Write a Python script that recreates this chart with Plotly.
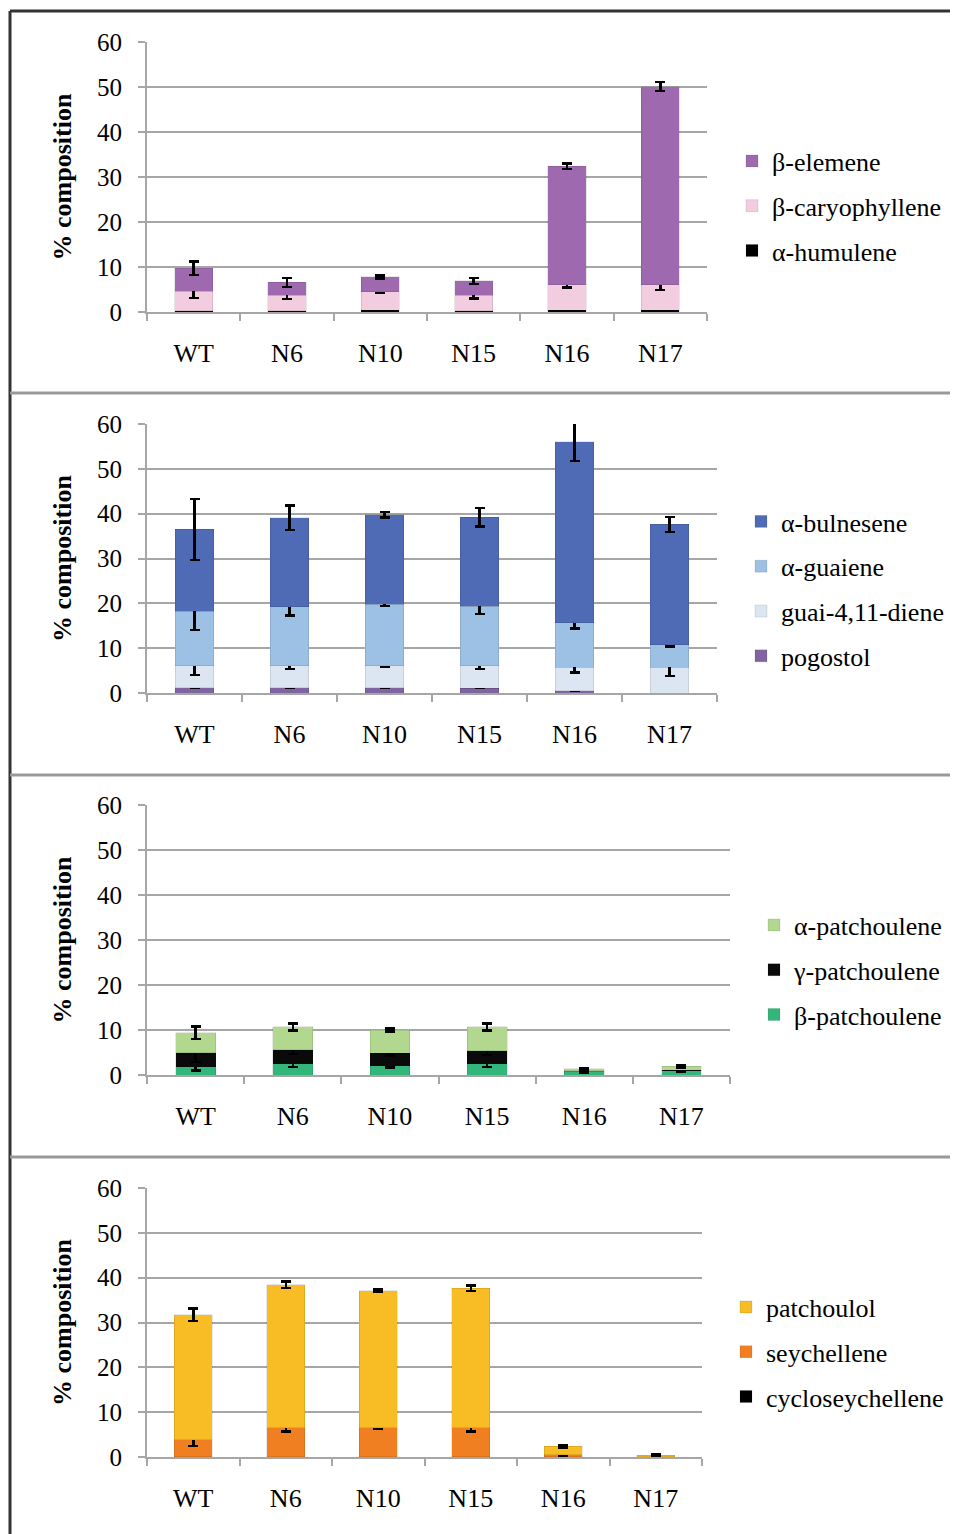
import plotly.graph_objects as go

categories = ["WT", "N6", "N10", "N15", "N16", "N17"]

# Panel 1 (bottom -> top)
humulene = [0.3, 0.3, 0.4, 0.3, 0.4, 0.4]
humulene_err = [0.1, 0.1, 0.1, 0.1, 0.2, 0.2]
caryophyllene = [4.3, 3.4, 4.1, 3.4, 5.7, 5.7]
caryophyllene_err = [1.5, 0.8, 0.3, 0.7, 0.7, 1.2]
elemene = [5.1, 2.9, 3.3, 3.2, 26.3, 44.0]
elemene_err = [1.5, 1.0, 0.3, 0.7, 0.6, 1.0]

# Panel 2
pogostol = [1.2, 1.2, 1.2, 1.1, 0.5, 0.0]
pogostol_err = [0, 0, 0, 0, 0, 0]
guaidiene = [4.9, 4.9, 4.9, 5.0, 5.2, 5.8]
guaidiene_err = [2.1, 0.7, 0.3, 0.7, 1.1, 2.0]
guaiene = [12.1, 13.1, 13.7, 13.2, 10.0, 5.0]
guaiene_err = [4.1, 1.9, 0.4, 1.7, 1.3, 0.4]
bulnesene = [18.3, 19.9, 20.0, 19.9, 40.3, 26.8]
bulnesene_err = [6.8, 2.7, 0.6, 2.1, 4.3, 1.7]

# Panel 3
b_patch = [1.8, 2.5, 2.1, 2.5, 0.8, 1.0]
b_patch_err = [0.8, 0.75, 0.4, 0.75, 0.3, 0.2]
g_patch = [3.2, 3.1, 2.7, 2.9, 0.1, 0.1]
g_patch_err = [2.1, 0.9, 0.5, 0.9, 0.2, 0.3]
a_patch = [4.4, 5.1, 5.2, 5.3, 0.5, 0.8]
a_patch_err = [1.4, 0.8, 0.3, 0.8, 0.2, 0.2]

# Panel 4
cyclosey = [0.1, 0.1, 0.1, 0.1, 0.1, 0.05]
cyclosey_err = [0, 0, 0, 0, 0, 0]
seychellene = [3.8, 6.4, 6.4, 6.4, 0.4, 0.05]
seychellene_err = [1.4, 0.8, 0.3, 0.8, 0.3, 0.0]
patchoulol = [27.8, 31.9, 30.6, 31.1, 1.9, 0.25]
patchoulol_err = [1.4, 0.7, 0.3, 0.6, 0.3, 0.2]

OFF = 8  # page body margin
W, H = 958 - OFF, 1534 - OFF
FONT = "Liberation Serif, Times New Roman, serif"
GRID = "#A6A6A6"


def px(x):
    return (x - OFF) / W


def py(y):
    return 1 - (y - OFF) / H


panels = [
    dict(series=[("α-humulene", humulene, humulene_err, "#000000"),
                 ("β-caryophyllene", caryophyllene, caryophyllene_err, "#F2CDE0"),
                 ("β-elemene", elemene, elemene_err, "#9E69AF")],
         x0=147, x1=707, ytop=42, ybot=312, legx=732, legy=206),
    dict(series=[("pogostol", pogostol, pogostol_err, "#8064A2"),
                 ("guai-4,11-diene", guaidiene, guaidiene_err, "#DCE6F2"),
                 ("α-guaiene", guaiene, guaiene_err, "#9DC0E5"),
                 ("α-bulnesene", bulnesene, bulnesene_err, "#4F6BB5")],
         x0=147, x1=717, ytop=424, ybot=693, legx=741, legy=589),
    dict(series=[("β-patchoulene", b_patch, b_patch_err, "#33B679"),
                 ("γ-patchoulene", g_patch, g_patch_err, "#0A0A0A"),
                 ("α-patchoulene", a_patch, a_patch_err, "#B2D88F")],
         x0=147, x1=730, ytop=805, ybot=1075, legx=754, legy=970),
    dict(series=[("cycloseychellene", cyclosey, cyclosey_err, "#000000"),
                 ("seychellene", seychellene, seychellene_err, "#F07F22"),
                 ("patchoulol", patchoulol, patchoulol_err, "#F8BC24")],
         x0=147, x1=702, ytop=1188, ybot=1457, legx=726, legy=1352),
]

fig = go.Figure()
layout = dict(width=W, height=H, margin=dict(l=0, r=0, t=0, b=0, autoexpand=False),
              paper_bgcolor="white", plot_bgcolor="white",
              barmode="stack", bargap=0.59, showlegend=True,
              font=dict(family=FONT, size=24, color="black"))

for i, p in enumerate(panels):
    n = i + 1
    xa = "x" if n == 1 else f"x{n}"
    ya = "y" if n == 1 else f"y{n}"
    lg = "legend" if n == 1 else f"legend{n}"
    for k, (name, vals, errs, col) in enumerate(p["series"]):
        fig.add_trace(go.Bar(
            x=categories, y=vals, name=name, xaxis=xa, yaxis=ya, legend=lg,
            legendgroup=f"p{n}_{name}", legendrank=100 - k,
            marker=dict(color=col, line=dict(color="rgba(0,0,0,0.12)", width=0.8)),
            error_y=dict(type="data", array=errs, visible=True, color="black",
                         thickness=2.5, width=5),
        ))
    xd = [px(p["x0"]), px(p["x1"])]
    yd = [py(p["ybot"]), py(p["ytop"])]
    layout["xaxis" if n == 1 else f"xaxis{n}"] = dict(
        domain=xd, anchor=ya, type="category", showline=True, linecolor=GRID,
        linewidth=2, ticks="outside", tickson="boundaries", ticklen=7,
        tickcolor=GRID, tickwidth=2, showgrid=False, ticklabelstandoff=17,
        automargin=False,
        tickfont=dict(family=FONT, size=26, color="black"), fixedrange=True)
    layout["yaxis" if n == 1 else f"yaxis{n}"] = dict(
        domain=yd, anchor=xa, range=[0, 60], dtick=10, showline=True,
        linecolor=GRID, linewidth=2, ticks="outside", ticklen=7,
        tickcolor=GRID, tickwidth=2, showgrid=True, gridcolor=GRID,
        gridwidth=2, zeroline=False, ticklabelstandoff=11, automargin=False,
        tickfont=dict(family=FONT, size=25, color="black"),
        title=dict(text="<b>% composition</b>", standoff=18,
                   font=dict(family=FONT, size=26, color="black")))
    layout[lg] = dict(x=px(p["legx"]), y=py(p["legy"]), xanchor="left",
                      yanchor="middle", traceorder="grouped",
                      tracegroupgap=8, bgcolor="rgba(0,0,0,0)",
                      font=dict(family=FONT, size=26, color="black"))

shapes = [
    dict(type="line", xref="paper", yref="paper", x0=px(10), x1=1, y0=py(11), y1=py(11),
         line=dict(color="#333333", width=3)),
    dict(type="line", xref="paper", yref="paper", x0=px(10), x1=px(10), y0=0, y1=py(11),
         line=dict(color="#333333", width=3)),
]
for ys in [393, 775, 1157]:
    shapes.append(dict(type="line", xref="paper", yref="paper", x0=px(10), x1=1,
                       y0=py(ys), y1=py(ys), line=dict(color="#999999", width=3)))
layout["shapes"] = shapes

fig.update_layout(**layout)
fig.write_html("out.html")
